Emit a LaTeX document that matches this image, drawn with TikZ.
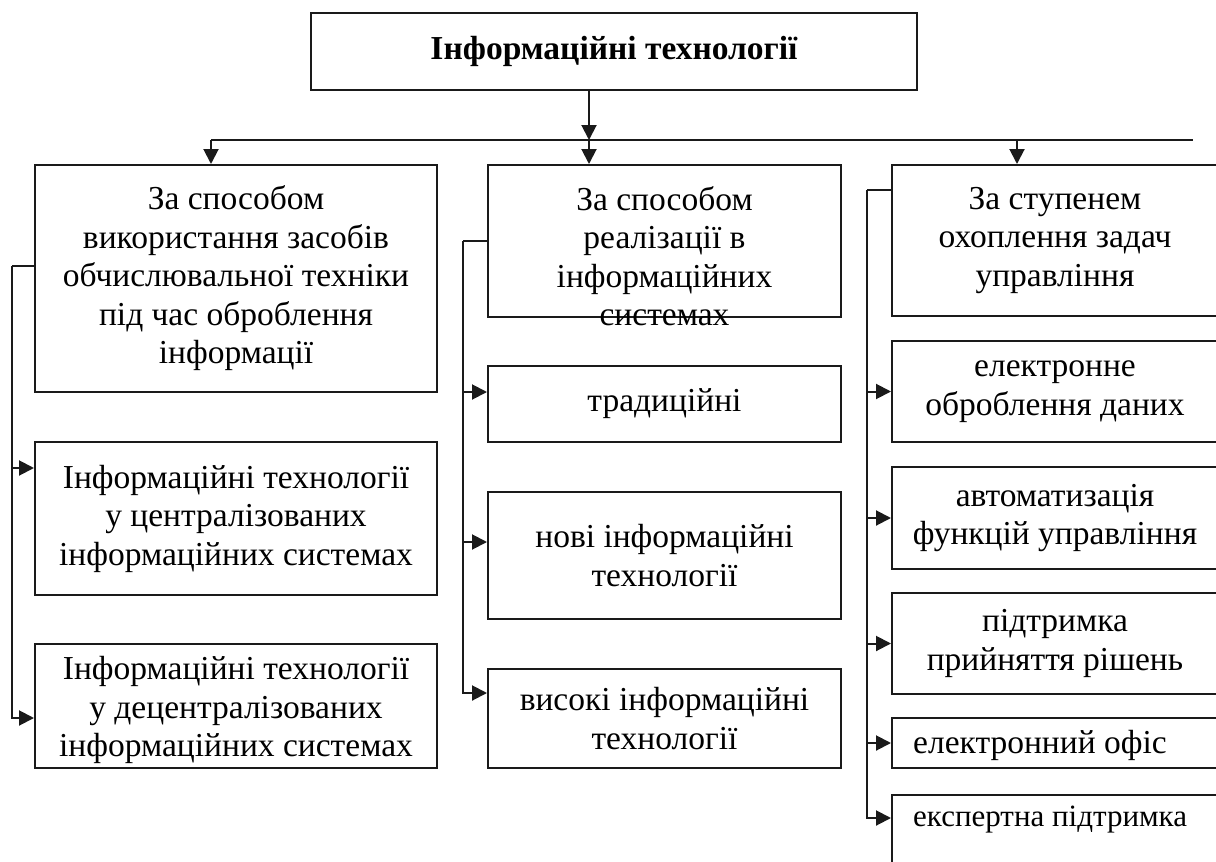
\documentclass[tikz,border=0pt]{standalone}
\usepackage{fontspec}
\setmainfont{Liberation Serif}
\usetikzlibrary{arrows.meta}
\definecolor{darkline}{HTML}{1A1A1A}
\tikzset{
  box/.style={rectangle, draw=darkline, line width=2pt, fill=white, inner sep=0pt, align=center, font=\fontsize{33.5}{38.5}\selectfont},
  head/.style={box, minimum width=606pt, minimum height=77pt, font=\fontsize{33.5}{38}\selectfont\bfseries},
  group/.style={box, minimum width=402pt},
  mid/.style={box, minimum width=353pt},
  right/.style={box, minimum width=326pt},
  txt/.style={inner sep=0pt, align=center, font=\fontsize{33.5}{38.5}\selectfont},
  bus/.style={line width=2pt, draw=darkline},
  flow/.style={-{Triangle[length=15pt, width=15pt]}, line width=2pt, draw=darkline},
}

\begin{document}
\begin{tikzpicture}[x=1pt, y=-1pt]
\useasboundingbox (0,0) rectangle (1216,862);
\begin{scope}
\clip (0,0) rectangle (1216,862);

% ===== Top =====
\node[head] (top) at (614,51.5) {Інформаційні технології};
\coordinate (trunk) at (589,140);
\coordinate (busL) at (211,140);
\coordinate (busR) at (1193,140);
\coordinate (rdrop) at (1017,140);

% ===== Left column =====
\node[group, minimum height=227pt] (L1) at (236,278.5) {За способом\\використання засобів\\обчислювальної техніки\\під час оброблення\\інформації};
\node[group, minimum height=153pt] (L2) at (236,518.5) {Інформаційні технології\\у централізованих\\інформаційних системах};
\node[group, minimum height=124pt] (L3) at (236,706) {};
\node[txt] (L3t) at (236,710) {Інформаційні технології\\у децентралізованих\\інформаційних системах};

% ===== Middle column =====
\node[mid, minimum height=152pt] (M1) at (664.5,241) {};
\node[txt] (M1t) at (664.5,256) {За способом\\реалізації в\\інформаційних\\системах};
\node[mid, minimum height=76pt] (M2) at (664.5,404) {традиційні};
\node[mid, minimum height=127pt] (M3) at (664.5,555.5) {нові інформаційні\\технології};
\node[mid, minimum height=99pt] (M4) at (664.5,718.5) {високі інформаційні\\технології};

% ===== Right column =====
\node[right, minimum height=151pt] (R1) at (1055,240.5) {За ступенем\\охоплення задач\\управління};
\node[right, minimum height=101pt] (R2) at (1055,391.5) {електронне\\оброблення даних};
\node[right, minimum height=102pt] (R3) at (1055,518) {автоматизація\\функцій управління};
\node[right, minimum height=101pt] (R4) at (1055,643.5) {підтримка\\прийняття рішень};
\node[right, minimum height=50pt] (R5) at (1055,743) {};
\node[txt, anchor=west] (R5t) at (913,745) {електронний офіс};
\node[right, minimum height=85pt] (R6) at (1055,837.5) {};
\node[txt, anchor=west, font=\fontsize{31}{36}\selectfont] (R6t) at (913,820) {експертна підтримка};

% ===== Flow =====
\draw[flow] (top.south -| trunk) -- (trunk);
\draw[bus] (busL) -- (busR);
\draw[flow] (busL) -- (busL |- L1.north);
\draw[flow] (trunk) -- (trunk |- M1.north);
\draw[flow] (rdrop) -- (rdrop |- R1.north);

% left bus
\coordinate (l1out) at ([yshift=12.5pt]L1.west);
\coordinate (lbus) at (12,0);
\coordinate (l2in) at ([yshift=50.5pt]L2.west);
\coordinate (l3in) at ([yshift=-12pt]L3.west);
\draw[bus] (l1out) -- (lbus |- l1out);
\draw[flow] (lbus |- l1out) |- (l3in);
\draw[flow] (lbus |- l2in) -- (l2in);

% middle bus
\coordinate (mbus) at (463,0);
\coordinate (m2in) at ([yshift=12pt]M2.west);
\coordinate (m3in) at ([yshift=13.5pt]M3.west);
\coordinate (m4in) at ([yshift=25.5pt]M4.west);
\draw[bus] (M1.west) -- (mbus |- M1.west);
\draw[flow] (mbus |- M1.west) |- (m4in);
\draw[flow] (mbus |- m2in) -- (m2in);
\draw[flow] (mbus |- m3in) -- (m3in);

% right bus
\coordinate (rbus) at (867,0);
\coordinate (r1out) at ([yshift=50.5pt]R1.west);
\coordinate (r6in) at ([yshift=19.5pt]R6.west);
\draw[bus] (r1out) -- (rbus |- r1out);
\draw[flow] (rbus |- r1out) |- (r6in);
\draw[flow] (rbus |- R2.west) -- (R2.west);
\draw[flow] (rbus |- R3.west) -- (R3.west);
\draw[flow] (rbus |- R4.west) -- (R4.west);
\draw[flow] (rbus |- R5.west) -- (R5.west);

\end{scope}
\end{tikzpicture}
\end{document}
